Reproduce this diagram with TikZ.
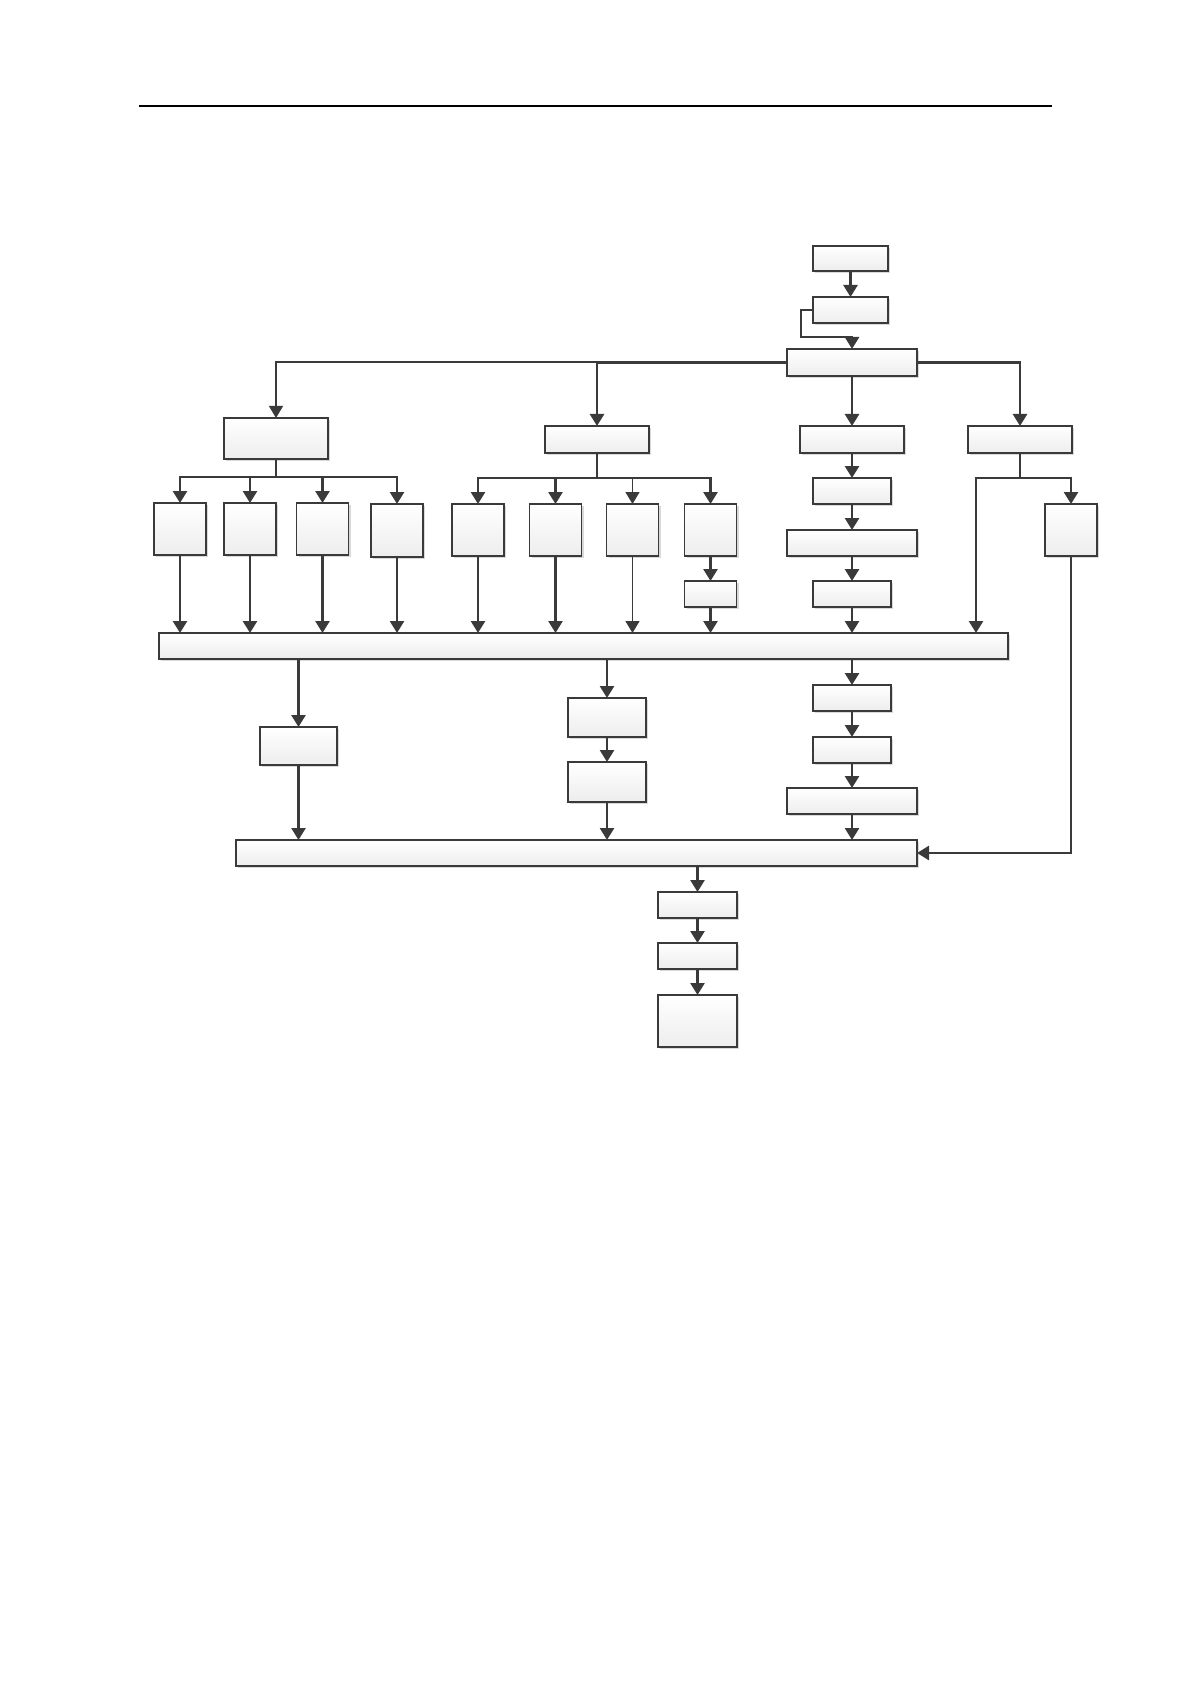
\documentclass[tikz,border=0pt]{standalone}
\usetikzlibrary{arrows.meta,shadows}
\definecolor{ln}{HTML}{3A3A3A}
\tikzset{
  bx/.style={draw=ln,line width=0.6pt,inner sep=0pt,outer sep=0pt,
    top color=white,bottom color=black!7,
    drop shadow={shadow xshift=1pt,shadow yshift=-1pt,opacity=0.15,fill=black}},
  ar/.style={draw=ln,line width=1.3pt,-{Triangle[length=6pt,width=7pt]}},
  arthin/.style={draw=ln,line width=0.7pt,-{Triangle[length=6pt,width=7pt]}},
}
\newcommand\bx[5]{%
  \pgfmathsetmacro\bw{(#4-#2)*0.5}%
  \pgfmathsetmacro\bh{(#5-#3)*0.5}%
  \node[bx,minimum width=\bw pt,minimum height=\bh pt] (#1) at ({(#2+#4)/2},{(#3+#5)/2}) {};}
\begin{document}
\begin{tikzpicture}[x=0.5pt,y=-0.5pt]
\useasboundingbox[fill=white] (0,0) rectangle (1191,1684);
% header rule
\draw[black,line width=0.75pt] (139,106) -- (1052,106);
% boxes
\bx{A}{813}{246}{888}{271}
\bx{B}{813}{297}{888}{323}
\bx{C}{787}{349}{917}{376}
\bx{D}{224}{418}{328}{459}
\bx{E}{545}{426}{649}{453}
\bx{F}{800}{426}{904}{453}
\bx{J}{968}{426}{1072}{453}
\bx{La}{154}{503}{206}{555}
\bx{Lb}{224}{503}{276}{555}
\bx{Lc}{296.5}{503}{348.5}{555}
\bx{Ld}{371}{504}{423}{557}
\bx{Ma}{452}{504}{504}{556}
\bx{Mb}{529.5}{504}{581.5}{556}
\bx{Mc}{606.5}{504}{658.5}{556}
\bx{Md}{684.5}{504}{736.5}{556}
\bx{Me}{684.5}{581}{736.5}{607}
\bx{G}{813}{478}{891}{504}
\bx{H}{787}{530}{917}{556}
\bx{I}{813}{581}{891}{607}
\bx{K}{1045}{504}{1097}{556}
\bx{BarA}{159}{633}{1008}{659}
\bx{P1}{260}{727}{337}{765}
\bx{Q1}{568}{698}{646}{737}
\bx{Q2}{568}{762}{646}{802}
\bx{R}{813}{685}{891}{711}
\bx{S}{813}{737}{891}{763}
\bx{T}{787}{788}{917}{814}
\bx{BarB}{236}{840}{917}{866}
\bx{O}{658}{892}{737}{918}
\bx{P}{658}{943}{737}{969}
\bx{Q}{658}{995}{737}{1047}
% coordinates
\coordinate (cb) at (801,337);
\coordinate (ej) at (596,362);
\coordinate (jb) at (976,633);
% top chain
\draw[ar] (A) -- (B);
\draw[ar] (B.west) -| (cb) -| (C.north);
\draw[ar] (C.west) -| (E.north);
\draw[arthin] (ej) -| (D.north);
\draw[ar] (C.south) -- (F.north);
\draw[ar] (C.east) -| (J.north);
% D branch
\foreach \n in {La,Lb,Lc,Ld} {\draw[ar] (D.south) -- ++(0,18) -| (\n.north);}
% E branch
\foreach \n in {Ma,Mb,Md} {\draw[ar] (E.south) -- ++(0,25) -| (\n.north);}
\draw[arthin] (E.south) ++(0,25) -| (Mc.north);
% J branch
\draw[ar] (J.south) -- ++(0,25) -| (K.north);
\draw[ar] (J.south) -- ++(0,25) -| (jb);
% into bar A
\foreach \n in {La,Lb,Lc,Ld,Ma,Mb} {\draw[ar] (\n.south) -- (\n.south |- BarA.north);}
\draw[arthin] (Mc.south) -- (Mc.south |- BarA.north);
\draw[ar] (Md) -- (Me);
\draw[ar] (Me.south) -- (Me.south |- BarA.north);
\draw[ar] (F) -- (G);
\draw[ar] (G) -- (H);
\draw[ar] (H) -- (I);
\draw[ar] (I.south) -- (I.south |- BarA.north);
% below bar A
\draw[ar] (P1.north |- BarA.south) -- (P1.north);
\draw[ar] (P1.south) -- (P1.south |- BarB.north);
\draw[ar] (Q1.north |- BarA.south) -- (Q1.north);
\draw[ar] (Q1) -- (Q2);
\draw[ar] (Q2.south) -- (Q2.south |- BarB.north);
\draw[ar] (R.north |- BarA.south) -- (R.north);
\draw[ar] (R) -- (S);
\draw[ar] (S) -- (T);
\draw[ar] (T.south) -- (T.south |- BarB.north);
\draw[ar] (K.south) |- (BarB.east);
% bottom chain
\draw[ar] (O.north |- BarB.south) -- (O.north);
\draw[ar] (O) -- (P);
\draw[ar] (P) -- (Q);
\end{tikzpicture}
\end{document}
